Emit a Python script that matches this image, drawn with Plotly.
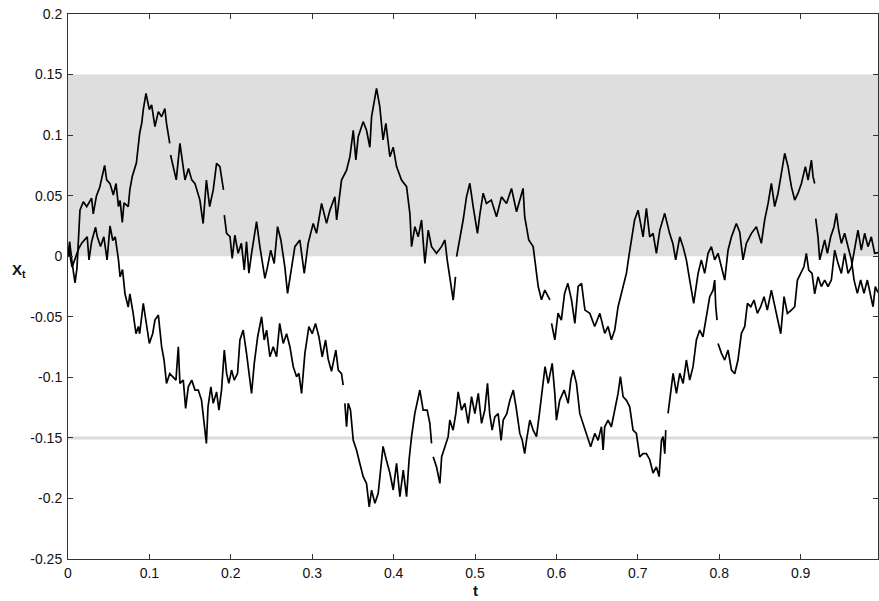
import plotly.graph_objects as go

# ---- data (None = jump / gap in the path) ----
upper_t = [
    0, 0.002, 0.005, 0.0086, 0.011, 0.0147, 0.0188, 0.023, 0.029, 0.031, 0.035, 0.039, 0.045, 0.0475,
    0.0516, 0.0557, 0.059, 0.062, 0.064, 0.0667, 0.0688, 0.074, 0.076, 0.079, 0.084, 0.088, 0.0906,
    0.0925, 0.0958, 0.0974, 0.0999, 0.1027, 0.1068, 0.111, 0.115, 0.119, 0.121, 0.125,
    None,
    0.126, 0.129, 0.133, 0.1375, 0.141, 0.1437, 0.148, 0.152, 0.156, 0.162, 0.166, 0.170, 0.174,
    0.1784, 0.1825, 0.1866, 0.191,
    None,
    0.192, 0.1948, 0.199, 0.2017, 0.205, 0.209, 0.213, 0.2165, 0.2193, 0.2222, 0.2255, 0.2288, 0.2316,
    0.2357, 0.2419, 0.245, 0.249, 0.2533, 0.2574, 0.2615, 0.2664, 0.2697, 0.2738, 0.2787, 0.2848,
    0.2902, 0.295, 0.3012, 0.3053, 0.3115, 0.3176, 0.3217, 0.3278, 0.330, 0.336, 0.3422, 0.3463,
    0.3504, 0.3536, 0.3565, 0.3626, 0.3667, 0.3708, 0.3729, 0.379, 0.383, 0.387, 0.3905, 0.3954,
    0.3995, 0.4036, 0.4097, 0.4159, 0.42, 0.422, 0.4261, 0.4302, 0.4343, 0.4384, 0.4425, 0.4466,
    0.4527, 0.4588, 0.463, 0.4658, 0.4691, 0.4732, 0.476,
    None,
    0.4773, 0.4813, 0.4854, 0.4895, 0.4936, 0.4977, 0.503, 0.506, 0.51, 0.514, 0.52, 0.5264, 0.5325,
    0.5387, 0.5448, 0.551, 0.555, 0.559, 0.561, 0.566, 0.5714, 0.5743, 0.5776, 0.5816, 0.5857, 0.592,
    None,
    0.594, 0.598, 0.602, 0.606, 0.61, 0.614, 0.6185, 0.6226, 0.6267, 0.6308, 0.635, 0.641, 0.647,
    0.6533, 0.6593, 0.6634, 0.6675, 0.6716, 0.6757, 0.6819, 0.686, 0.6892, 0.692, 0.696, 0.7003,
    0.7044, 0.7064, 0.7105, 0.7146, 0.7187, 0.7228, 0.727, 0.733, 0.739, 0.743, 0.7465, 0.7515,
    0.7555, 0.7596, 0.7637, 0.7686, 0.774, 0.778, 0.7821, 0.7862, 0.7903, 0.7944, 0.7985, 0.8026,
    0.8067, 0.8108, 0.815, 0.821, 0.8251, 0.8292, 0.8333, 0.8395, 0.8456, 0.8517, 0.8558, 0.86,
    0.864, 0.8681, 0.8722, 0.8763, 0.8804, 0.8845, 0.8886, 0.8927, 0.8968, 0.9009, 0.9058, 0.9091,
    0.9132, 0.9152, 0.9172,
    None,
    0.9185, 0.9213, 0.9234, 0.9262, 0.9295, 0.9328, 0.9369, 0.941, 0.9439, 0.9467, 0.95, 0.954,
    0.9582, 0.9623, 0.9656, 0.9696, 0.9737, 0.9778, 0.9819, 0.986, 0.9889, 0.9917, 0.995,
]
upper_x = [
    0, 0.012, -0.005, -0.022, -0.010, 0.038, 0.045, 0.041, 0.048, 0.035, 0.050, 0.057, 0.075, 0.063,
    0.060, 0.0505, 0.060, 0.041, 0.046, 0.028, 0.044, 0.041, 0.055, 0.066, 0.077, 0.1015, 0.110,
    0.121, 0.1345, 0.129, 0.121, 0.125, 0.107, 0.1194, 0.1152, 0.122, 0.1097, 0.0932,
    None,
    0.0836, 0.074, 0.063, 0.0932, 0.074, 0.063, 0.0725, 0.063, 0.0600, 0.0464, 0.027, 0.0629, 0.041,
    0.0547, 0.0767, 0.074, 0.0547,
    None,
    0.034, 0.0189, 0.0161, -0.0018, 0.0175, 0.0024, 0.0106, -0.0114, 0.012, -0.014, 0.0024, 0.0161,
    0.0285, 0.0079, -0.0183, -0.009, 0.005, -0.006, 0.0244, 0.0134, -0.009, -0.0307, -0.0142, 0.0079,
    0.0134, -0.0142, 0.0106, 0.0271, 0.0189, 0.0436, 0.0271, 0.038, 0.049, 0.030, 0.0629, 0.071,
    0.0822, 0.104, 0.0795, 0.0987, 0.1111, 0.104, 0.09, 0.1152, 0.1386, 0.1235, 0.096, 0.1097,
    0.0822, 0.09, 0.074, 0.0629, 0.0574, 0.035, 0.0079, 0.0244, 0.016, 0.0299, -0.006, 0.0216,
    0.0079, 0.0024, 0.0079, 0.0134, -0.003, -0.0197, -0.0362, -0.017,
    None,
    -0.0004, 0.0134, 0.0299, 0.049, 0.0602, 0.041, 0.0189, 0.035, 0.052, 0.0436, 0.0464, 0.0326,
    0.049, 0.0436, 0.056, 0.0367, 0.0464, 0.056, 0.0326, 0.0134, 0.0079, -0.006, -0.025, -0.036,
    -0.028, -0.036,
    None,
    -0.0555, -0.069, -0.047, -0.0527, -0.0307, -0.0224, -0.036, -0.0555, -0.025, -0.0224, -0.0445,
    -0.0472, -0.058, -0.0472, -0.0637, -0.058, -0.069, -0.061, -0.0417, -0.025, -0.014, 0.001,
    0.0134, 0.0299, 0.038, 0.0244, 0.016, 0.0395, 0.016, 0.0189, 0.0024, 0.0216, 0.0354, 0.0189,
    0.0106, -0.003, 0.016, 0.0079, -0.003, -0.0197, -0.039, -0.0142, -0.003, -0.0142, 0.0024,
    0.0079, -0.003, 0.0024, -0.0087, -0.0197, 0.005, 0.016, 0.027, 0.020, -0.003, 0.0106, 0.0189,
    0.0244, 0.0106, 0.030, 0.0436, 0.0602, 0.041, 0.052, 0.0684, 0.085, 0.074, 0.0574, 0.0464,
    0.052, 0.060, 0.074, 0.0629, 0.0794, 0.0657, 0.060,
    None,
    0.031, 0.016, -0.003, 0.005, 0.0134, 0.0024, 0.016, 0.0244, 0.0354, 0.0216, 0.0106, 0.0189,
    0.0079, -0.003, -0.0197, -0.0307, -0.0197, -0.0307, -0.0197, -0.0334, -0.0417, -0.025, -0.030,
]

lower_t = [
    0, 0.0012, 0.005, 0.009, 0.013, 0.017, 0.0236, 0.0258, 0.029, 0.0338, 0.036, 0.040, 0.044, 0.048,
    0.0516, 0.055, 0.058, 0.062, 0.064, 0.067, 0.070, 0.074, 0.076, 0.080, 0.0835, 0.0864, 0.088,
    0.0925, 0.0958, 0.0999, 0.104, 0.1068, 0.111, 0.113, 0.115, 0.118, 0.121, 0.125, 0.129, 0.1326,
    0.1355, 0.1375, 0.1416, 0.1445, 0.1478, 0.152, 0.156, 0.160, 0.164, 0.168, 0.170, 0.172, 0.1755,
    0.1784, 0.1825, 0.1854, 0.1886, 0.192, 0.1948, 0.1976, 0.2009, 0.2042, 0.2083, 0.2112, 0.2152,
    0.2193, 0.2222, 0.2255, 0.2288, 0.233, 0.2378, 0.241, 0.244, 0.248, 0.2521, 0.2562, 0.26,
    0.2644, 0.2685, 0.2726, 0.2767, 0.2808, 0.2836, 0.2869, 0.291, 0.2959, 0.30, 0.304, 0.3082,
    0.3123, 0.3164, 0.3196, 0.3237, 0.3258, 0.329, 0.332, 0.336, 0.338,
    None,
    0.3401, 0.3422, 0.3442, 0.347, 0.3504, 0.3544, 0.3585, 0.3626, 0.3667, 0.37, 0.3729, 0.377,
    0.381, 0.385, 0.387, 0.391, 0.3954, 0.3995, 0.4036, 0.4077, 0.4118, 0.4159, 0.419, 0.422, 0.426,
    0.4322, 0.4363, 0.4412, 0.4445, 0.4466,
    None,
    0.4486, 0.4527, 0.4568, 0.459, 0.463, 0.467, 0.469, 0.473, 0.4764, 0.4793, 0.4834, 0.4875,
    0.4916, 0.4957, 0.4998, 0.504, 0.508, 0.512, 0.5153, 0.518, 0.521, 0.5243, 0.5284, 0.532,
    0.5346, 0.539, 0.5428, 0.547, 0.551, 0.555, 0.558, 0.561, 0.5632, 0.5673, 0.5714, 0.5755,
    0.5796, 0.5825, 0.586, 0.5899, 0.5948, 0.598, 0.600, 0.604, 0.6095, 0.6144, 0.6177, 0.6205,
    0.6246, 0.6287, 0.6328, 0.637, 0.642, 0.6471, 0.6512, 0.6532, 0.6553, 0.6573, 0.6593, 0.6634,
    0.6675, 0.6716, 0.6757, 0.6786, 0.6819, 0.686, 0.69, 0.6941, 0.6982, 0.7023, 0.7064, 0.7105,
    0.7146, 0.7187, 0.7228, 0.7261, 0.729, 0.731, 0.7331, 0.7343,
    None,
    0.7371, 0.74, 0.7433, 0.7474, 0.7515, 0.7556, 0.7596, 0.7637, 0.7678, 0.7719, 0.776, 0.78,
    0.7842, 0.7883, 0.7924, 0.7944, 0.7957, 0.7973,
    None,
    0.7985, 0.8026, 0.8067, 0.8108, 0.815, 0.819, 0.823, 0.8272, 0.8313, 0.8346, 0.8387, 0.8427,
    0.8468, 0.8509, 0.855, 0.859, 0.864, 0.8681, 0.8722, 0.8755, 0.8796, 0.8837, 0.8886, 0.8927,
    0.896, 0.900, 0.904, 0.907, 0.9099, 0.914, 0.9172, 0.9213, 0.9254, 0.9295, 0.9336, 0.9377,
    0.9418, 0.9459, 0.950, 0.954, 0.9582, 0.9623, 0.9664, 0.9704, 0.9745, 0.9786, 0.9827, 0.9868,
    0.9909, 0.995,
]
lower_x = [
    0, 0.005, -0.009, -0.002, 0.006, 0.011, 0.016, -0.003, 0.012, 0.024, 0.016, 0.008, 0.016, -0.003,
    0.025, 0.013, 0.016, -0.003, -0.017, -0.011, -0.031, -0.042, -0.031, -0.047, -0.064, -0.058,
    -0.064, -0.039, -0.0527, -0.072, -0.064, -0.0527, -0.0486, -0.064, -0.0747, -0.0857, -0.105,
    -0.097, -0.0995, -0.1023, -0.0747, -0.105, -0.1023, -0.1256, -0.1078, -0.1023, -0.1105, -0.1105,
    -0.1188, -0.1463, -0.1545, -0.1243, -0.1078, -0.1215, -0.112, -0.127, -0.1105, -0.0775, -0.0967,
    -0.105, -0.094, -0.1023, -0.0967, -0.0692, -0.061, -0.0802, -0.0967, -0.1133, -0.0885, -0.0665,
    -0.050, -0.0692, -0.061, -0.083, -0.0747, -0.083, -0.0555, -0.072, -0.064, -0.0747, -0.0912,
    -0.0995, -0.0967, -0.1133, -0.0802, -0.0582, -0.064, -0.0555, -0.0665, -0.083, -0.0692, -0.085,
    -0.095, -0.0885, -0.0775, -0.094, -0.097, -0.1064,
    None,
    -0.1215, -0.1408, -0.1215, -0.127, -0.152, -0.160, -0.1711, -0.182, -0.1876, -0.207, -0.1931,
    -0.204, -0.196, -0.171, -0.157, -0.168, -0.179, -0.193, -0.171, -0.1986, -0.1766, -0.1986,
    -0.168, -0.149, -0.130, -0.1105, -0.127, -0.127, -0.138, -0.1545,
    None,
    -0.1656, -0.174, -0.1876, -0.1656, -0.1573, -0.149, -0.1353, -0.1436, -0.130, -0.112, -0.127,
    -0.1215, -0.138, -0.116, -0.130, -0.1133, -0.138, -0.127, -0.105, -0.130, -0.1436, -0.1326,
    -0.130, -0.152, -0.1353, -0.130, -0.119, -0.1105, -0.127, -0.1463, -0.152, -0.163, -0.152,
    -0.1353, -0.1436, -0.149, -0.127, -0.1105, -0.0912, -0.105, -0.0885, -0.1133, -0.1353, -0.119,
    -0.1105, -0.1215, -0.1023, -0.094, -0.105, -0.130, -0.138, -0.1463, -0.1573, -0.1463, -0.152,
    -0.1463, -0.1408, -0.160, -0.1408, -0.1353, -0.1408, -0.127, -0.1133, -0.0995, -0.116, -0.119,
    -0.1243, -0.1436, -0.1463, -0.1656, -0.163, -0.163, -0.168, -0.179, -0.174, -0.182, -0.152,
    -0.149, -0.163, -0.1436,
    None,
    -0.1298, -0.1133, -0.0967, -0.1133, -0.0967, -0.105, -0.0857, -0.1023, -0.0912, -0.0692, -0.061,
    -0.0665, -0.050, -0.0334, -0.028, -0.0197, -0.0417, -0.0527,
    None,
    -0.072, -0.080, -0.0857, -0.0775, -0.094, -0.097, -0.0857, -0.0637, -0.058, -0.039, -0.0417,
    -0.0362, -0.0472, -0.0417, -0.0334, -0.0445, -0.028, -0.0417, -0.0527, -0.064, -0.0334, -0.0472,
    -0.0445, -0.0417, -0.0197, -0.0142, -0.0087, 0.0024, -0.0114, -0.0142, -0.031, -0.017, -0.025,
    -0.0197, -0.025, -0.0197, 0.005, -0.0059, -0.0142, 0.0024, -0.0142, -0.009, 0.0079, 0.0216,
    0.005, 0.0189, 0.0079, 0.016, 0.0024, 0.003,
]

band_low, band_high = 0.0, 0.15
barrier_level = -0.15
x_range = [0, 0.995]
y_range = [-0.25, 0.2]
x_ticks = [0, 0.1, 0.2, 0.3, 0.4, 0.5, 0.6, 0.7, 0.8, 0.9]
x_tick_labels = ["0", "0.1", "0.2", "0.3", "0.4", "0.5", "0.6", "0.7", "0.8", "0.9"]
y_ticks = [-0.25, -0.2, -0.15, -0.1, -0.05, 0, 0.05, 0.1, 0.15, 0.2]
y_tick_labels = ["-0.25", "-0.2", "-0.15", "-0.1", "-0.05", "0", "0.05", "0.1", "0.15", "0.2"]

fig = go.Figure()
for tt, xx in [(upper_t, upper_x), (lower_t, lower_x)]:
    fig.add_trace(go.Scatter(x=tt, y=xx, mode="lines", connectgaps=False,
                             line=dict(color="black", width=1.7), showlegend=False,
                             hoverinfo="skip"))

fig.add_shape(type="rect", xref="paper", yref="y", x0=0, x1=1, y0=band_low, y1=band_high,
              fillcolor="#dedede", line=dict(width=0), layer="below")
fig.add_shape(type="line", xref="paper", yref="y", x0=0, x1=1, y0=barrier_level, y1=barrier_level,
              line=dict(color="#dcdcdc", width=3), layer="below")

axis_common = dict(showline=True, linecolor="#333333", linewidth=1, mirror="ticks",
                   ticks="inside", ticklen=5, tickcolor="#333333", showgrid=False,
                   zeroline=False, tickfont=dict(family="Liberation Sans, Arial", size=14,
                                                 color="#111111"))
fig.update_xaxes(range=x_range, tickvals=x_ticks, ticktext=x_tick_labels,
                 ticklabelstandoff=1, **axis_common)
fig.update_yaxes(range=y_range, tickvals=y_ticks, ticktext=y_tick_labels,
                 ticklabelstandoff=2, **axis_common)

fig.add_annotation(text="<b>X<sub>t</sub></b>", xref="paper", yref="y", x=-0.06, y=-0.012,
                   showarrow=False, font=dict(family="Liberation Sans, Arial", size=15, color="#111"),
                   xanchor="center", yanchor="middle")
fig.add_annotation(text="<b>t</b>", xref="x", yref="paper", x=0.5, y=-0.057,
                   showarrow=False, font=dict(family="Liberation Sans, Arial", size=15, color="#111"),
                   xanchor="center", yanchor="middle")

fig.update_layout(width=879, height=601, margin=dict(l=68, r=1, t=14, b=42),
                  plot_bgcolor="white", paper_bgcolor="white")

fig.write_html("out.html")
